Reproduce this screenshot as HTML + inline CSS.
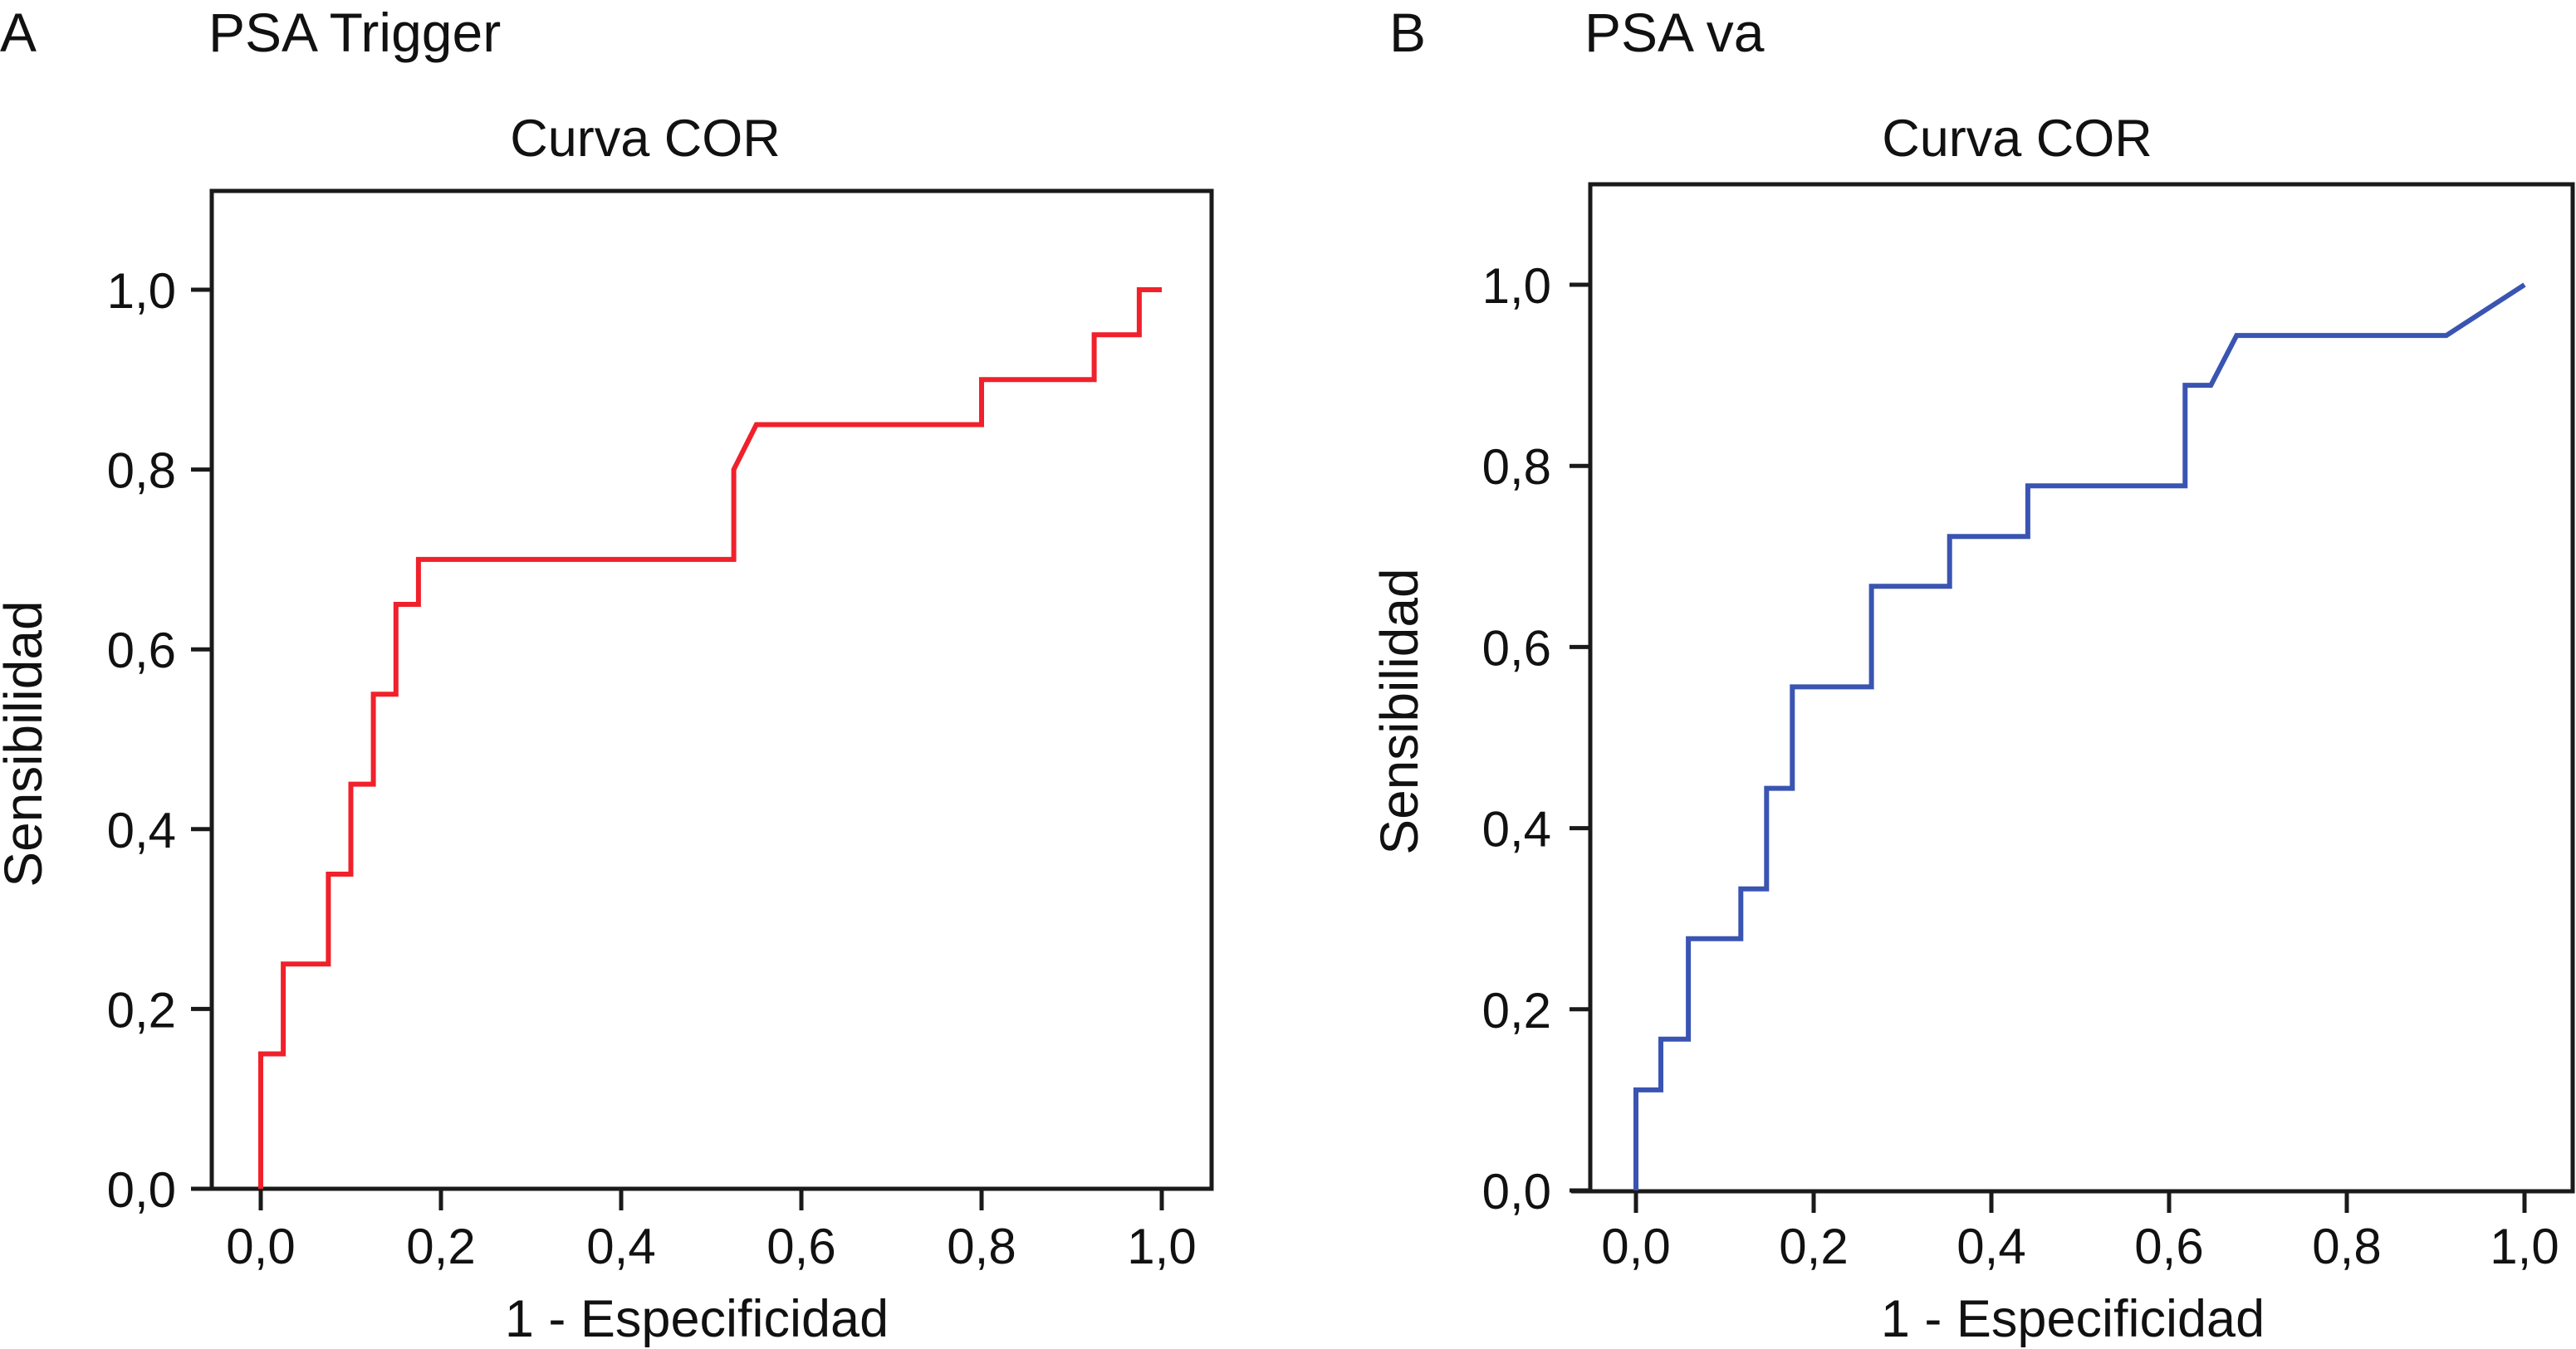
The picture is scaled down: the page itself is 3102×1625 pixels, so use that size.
<!DOCTYPE html>
<html><head><meta charset="utf-8"><style>
html,body{margin:0;padding:0;background:#fff}
svg{display:block}
text{font-family:"Liberation Sans",Arial,sans-serif;fill:#111}
</style></head><body>
<svg id="chart" width="3102" height="1625" viewBox="0 0 3102 1625">
<text x="0" y="62" font-size="66">A</text>
<text x="251" y="62" font-size="66">PSA Trigger</text>
<text x="1673" y="62" font-size="66">B</text>
<text x="1908" y="62" font-size="66">PSA va</text>
</svg>
<script>
const ticks = [0, 0.2, 0.4, 0.6, 0.8, 1.0];
const tickLabels = ["0,0", "0,2", "0,4", "0,6", "0,8", "1,0"];
const rocAx = [0, 0, 0.025, 0.025, 0.075, 0.075, 0.1, 0.1, 0.125, 0.125, 0.15, 0.15, 0.175, 0.175, 0.525, 0.525, 0.55, 0.8, 0.8, 0.925, 0.925, 0.975, 0.975, 1];
const rocAy = [0, 0.15, 0.15, 0.25, 0.25, 0.35, 0.35, 0.45, 0.45, 0.55, 0.55, 0.65, 0.65, 0.7, 0.7, 0.8, 0.85, 0.85, 0.9, 0.9, 0.95, 0.95, 1, 1];
const rocBx = [0, 0, 0.028, 0.028, 0.059, 0.059, 0.118, 0.118, 0.147, 0.147, 0.176, 0.176, 0.265, 0.265, 0.353, 0.353, 0.441, 0.441, 0.618, 0.618, 0.647, 0.676, 0.912, 1];
const rocBy = [0, 0.111, 0.111, 0.167, 0.167, 0.278, 0.278, 0.333, 0.333, 0.444, 0.444, 0.556, 0.556, 0.667, 0.667, 0.722, 0.722, 0.778, 0.778, 0.889, 0.889, 0.944, 0.944, 1];

const NS = "http://www.w3.org/2000/svg";
const svg = document.getElementById("chart");
function mk(tag, attrs, parent) {
  const e = document.createElementNS(NS, tag);
  for (const k in attrs) e.setAttribute(k, attrs[k]);
  (parent || svg).appendChild(e);
  return e;
}
const panels = [
  {id: "a", L: 255, R: 1459, T: 230, B: 1432, x0: 314, x1: 1399, y0: 1432, y1: 349, axStart: 230, xs: rocAx, ys: rocAy, color: "#f0212b", titleX: 777, xtitleX: 839, ylabX: 50, ylabY: 896, tickRight: 212},
  {id: "b", L: 1915, R: 3098, T: 222, B: 1435, x0: 1970, x1: 3040, y0: 1434, y1: 343, axStart: 1892, xs: rocBx, ys: rocBy, color: "#3a54b2", titleX: 2429, xtitleX: 2496, ylabX: 1707, ylabY: 857, tickRight: 1868}
];
panels.forEach(p => {
  const g = mk("g", {});
  
  
  const xS = v => p.x0 + v * (p.x1 - p.x0);
  const yS = v => p.y0 + v * (p.y1 - p.y0);
  const frame = mk("path", {d: `M${p.axStart} ${p.B} H${p.R} V${p.T} H${p.L} V${p.B}`, fill: "none", stroke: "#1a1a1a", "stroke-width": 5}, g);
  
  
  ticks.forEach((t, i) => {
    const xt = mk("line", {x1: xS(t), x2: xS(t), y1: p.B, y2: p.B + 26, stroke: "#1a1a1a", "stroke-width": 5}, g);
    
    
    const xl = mk("text", {x: xS(t), y: 1522, "font-size": 60, "text-anchor": "middle"}, g);
    xl.textContent = tickLabels[i];
    
    
    const yt = mk("line", {x1: p.L - 25, x2: p.L, y1: yS(t), y2: yS(t), stroke: "#1a1a1a", "stroke-width": 5}, g);
    
    
    const yl = mk("text", {x: p.tickRight, y: yS(t) + 22, "font-size": 60, "text-anchor": "end"}, g);
    yl.textContent = tickLabels[i];
    
    
  });
  const ct = mk("text", {x: p.titleX, y: 188, "font-size": 63, "text-anchor": "middle"}, g);
  ct.textContent = "Curva COR";
  
  
  const xt = mk("text", {x: p.xtitleX, y: 1610, "font-size": 63, "text-anchor": "middle"}, g);
  xt.textContent = "1 - Especificidad";
  
  
  const yt = mk("text", {x: p.ylabX, y: p.ylabY, "font-size": 64, "text-anchor": "middle", transform: `rotate(-90 ${p.ylabX} ${p.ylabY})`}, g);
  yt.textContent = "Sensibilidad";
  
  
  const pts = p.xs.map((x, i) => xS(x).toFixed(1) + "," + yS(p.ys[i]).toFixed(1)).join(" ");
  const line = mk("polyline", {points: pts, fill: "none", stroke: p.color, "stroke-width": 6, "stroke-linejoin": "miter"}, g);
  
  
});
</script>
</body></html>
